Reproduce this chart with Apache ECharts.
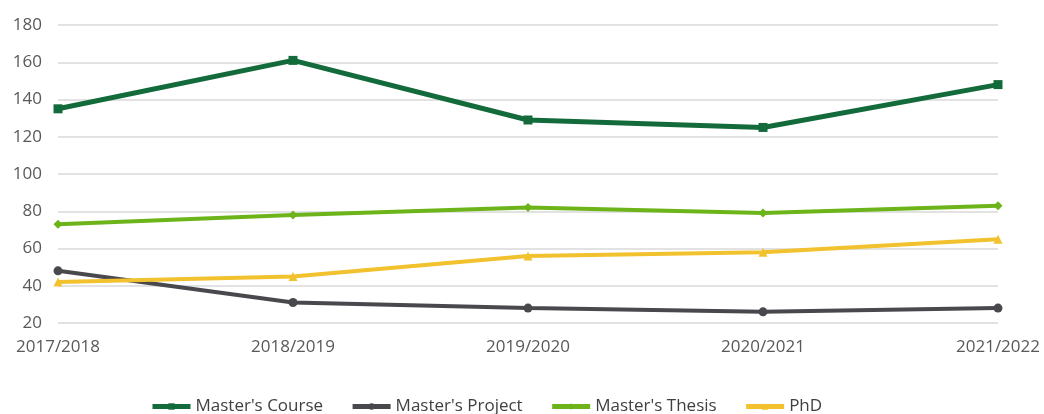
<!DOCTYPE html>
<html>
<head>
<meta charset="utf-8">
<script src="https://cdn.jsdelivr.net/npm/echarts@6/dist/echarts.min.js"></script>
<style>
  html, body { margin: 0; padding: 0; background: #fff; }
  #chart { width: 1044px; height: 414px; }
</style>
</head>
<body>
<div id="chart"></div>
<script>
const years = ["2017/2018", "2018/2019", "2019/2020", "2020/2021", "2021/2022"];
const mastersCourse = [135, 161, 129, 125, 148];
const mastersProject = [48, 31, 28, 26, 28];
const mastersThesis = [73, 78, 82, 79, 83];
const phd = [42, 45, 56, 58, 65];

const fontFamily = "'Open Sans', 'Noto Sans', sans-serif";

function lineSeries(name, data, color, symbol, width) {
  return {
    name: name,
    type: "line",
    data: data,
    symbol: symbol,
    symbolSize: 9,
    showAllSymbol: true,
    lineStyle: { color: color, width: width },
    itemStyle: { color: color },
  };
}

const myChart = echarts.init(document.getElementById("chart"));
myChart.setOption({
  animation: false,
  textStyle: { fontFamily: fontFamily },
  grid: { left: 58, right: 46, top: 25, bottom: 91 },
  legend: {
    top: 393,
    left: 145,
    itemWidth: 38,
    itemHeight: 8,
    itemGap: 27,
    lineStyle: { width: 5 },
    textStyle: { color: "#404040", fontSize: 17, fontFamily: fontFamily },
    data: ["Master's Course", "Master's Project", "Master's Thesis", "PhD"],
  },
  xAxis: {
    type: "category",
    boundaryGap: false,
    data: years,
    axisLine: { show: false },
    axisTick: { show: false },
    axisLabel: { color: "#595959", fontSize: 17, margin: 16 },
  },
  yAxis: {
    type: "value",
    min: 20,
    max: 180,
    interval: 20,
    axisLine: { show: false },
    axisTick: { show: false },
    axisLabel: { color: "#595959", fontSize: 17, margin: 16 },
    splitLine: { lineStyle: { color: "#d9d9d9", width: 1.5 } },
  },
  series: [
    lineSeries("Master's Course", mastersCourse, "#136b3b", "rect", 5),
    lineSeries("Master's Project", mastersProject, "#48484d", "circle", 4),
    lineSeries("Master's Thesis", mastersThesis, "#6cb41a", "diamond", 4),
    lineSeries("PhD", phd, "#f2c12e", "triangle", 4),
  ],
});
</script>
</body>
</html>
